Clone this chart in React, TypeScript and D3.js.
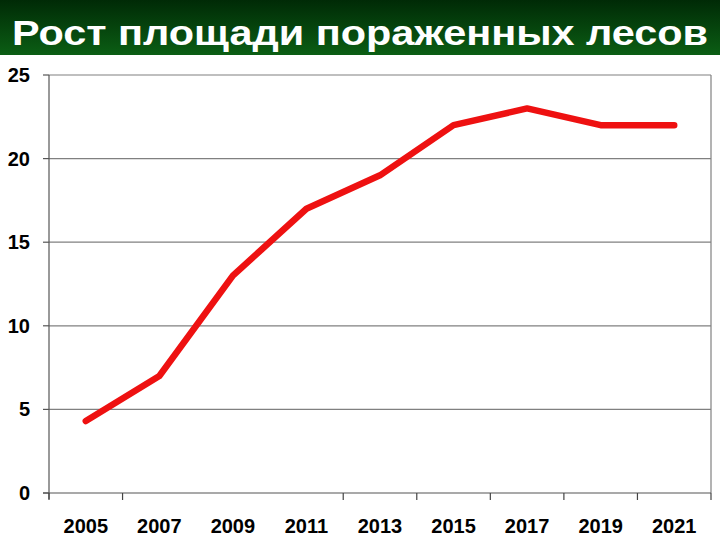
import { useEffect, useRef } from 'react'
import * as d3 from 'd3'

// values
const years = ['2005', '2007', '2009', '2011', '2013', '2015', '2017', '2019', '2021']
const values = [4.3, 7, 13, 17, 19, 22, 23, 22, 22]
const yTicks = [0, 5, 10, 15, 20, 25]
// boundary ticks drawn under the x axis (index of band edge)
const xTickEdges = [0, 1, 4, 5, 6, 7, 8, 9]
const title = 'Рост площади пораженных лесов'

const width = 720
const height = 540

export default function App() {
  const svgRef = useRef<SVGSVGElement>(null)

  useEffect(() => {
    if (!svgRef.current) return
    document.body.style.margin = '0'

    const svg = d3.select(svgRef.current)
    svg.selectAll('*').remove()

    const left = 49, right = 711, top = 75, bottom = 493

    // banner
    const defs = svg.append('defs')
    const grad = defs.append('linearGradient')
      .attr('id', 'banner')
      .attr('x1', 0).attr('y1', 0).attr('x2', 0).attr('y2', 1)
    grad.append('stop').attr('offset', '0%').attr('stop-color', '#002a06')
    grad.append('stop').attr('offset', '100%').attr('stop-color', '#0b5e14')

    svg.append('rect')
      .attr('width', width).attr('height', height).attr('fill', 'white')

    svg.append('rect')
      .attr('x', 0).attr('y', 0)
      .attr('width', width).attr('height', 55)
      .attr('fill', 'url(#banner)')

    svg.append('text')
      .attr('x', 12)
      .attr('y', 45)
      .attr('fill', 'white')
      .attr('font-family', 'Liberation Sans, Arial, sans-serif')
      .attr('font-weight', 'bold')
      .attr('font-size', 35)
      .attr('textLength', 696)
      .attr('lengthAdjust', 'spacingAndGlyphs')
      .text(title)

    const x = d3.scaleBand<string>().domain(years).range([left, right])
    const y = d3.scaleLinear().domain([0, 25]).range([bottom, top])

    // grid + frame
    svg.append('g')
      .selectAll('line')
      .data(yTicks.filter(t => t > 0))
      .enter()
      .append('line')
      .attr('x1', left).attr('x2', right)
      .attr('y1', d => y(d)).attr('y2', d => y(d))
      .attr('stroke', '#808080')
      .attr('stroke-width', 1.2)

    svg.append('line')
      .attr('x1', right).attr('x2', right)
      .attr('y1', top).attr('y2', bottom)
      .attr('stroke', '#808080')
      .attr('stroke-width', 1.2)

    // y axis
    svg.append('line')
      .attr('x1', left).attr('x2', left)
      .attr('y1', top).attr('y2', bottom + 6)
      .attr('stroke', '#555')
      .attr('stroke-width', 1.2)

    const yg = svg.append('g')
    yg.selectAll('line')
      .data(yTicks)
      .enter()
      .append('line')
      .attr('x1', left - 6).attr('x2', left)
      .attr('y1', d => y(d)).attr('y2', d => y(d))
      .attr('stroke', '#555')
      .attr('stroke-width', 1.2)
    yg.selectAll('text')
      .data(yTicks)
      .enter()
      .append('text')
      .attr('x', 30)
      .attr('y', d => y(d))
      .attr('dy', '0.35em')
      .attr('text-anchor', 'end')
      .attr('font-family', 'Liberation Sans, Arial, sans-serif')
      .attr('font-weight', 'bold')
      .attr('font-size', 20)
      .attr('fill', '#000')
      .text(d => d)

    // x axis
    svg.append('line')
      .attr('x1', left - 6).attr('x2', right)
      .attr('y1', bottom).attr('y2', bottom)
      .attr('stroke', '#555')
      .attr('stroke-width', 1.2)

    const step = x.step()
    svg.append('g')
      .selectAll('line')
      .data(xTickEdges)
      .enter()
      .append('line')
      .attr('x1', d => left + d * step).attr('x2', d => left + d * step)
      .attr('y1', bottom).attr('y2', bottom + 7)
      .attr('stroke', '#444')
      .attr('stroke-width', 1.2)

    svg.append('g')
      .selectAll('text')
      .data(years)
      .enter()
      .append('text')
      .attr('x', d => (x(d) ?? 0) + x.bandwidth() / 2)
      .attr('y', 533)
      .attr('text-anchor', 'middle')
      .attr('font-family', 'Liberation Sans, Arial, sans-serif')
      .attr('font-weight', 'bold')
      .attr('font-size', 20)
      .attr('fill', '#000')
      .text(d => d)

    // series line
    const line = d3.line<number>()
      .x((_, i) => (x(years[i]) ?? 0) + x.bandwidth() / 2)
      .y(d => y(d))

    svg.append('path')
      .datum(values)
      .attr('fill', 'none')
      .attr('stroke', '#ee1111')
      .attr('stroke-width', 6.5)
      .attr('stroke-linecap', 'round')
      .attr('stroke-linejoin', 'round')
      .attr('d', line)
  }, [])

  return (
    <div style={{ position: 'absolute', left: 0, top: 0 }}>
      <svg ref={svgRef} width={width} height={height} style={{ display: 'block' }} />
    </div>
  )
}
